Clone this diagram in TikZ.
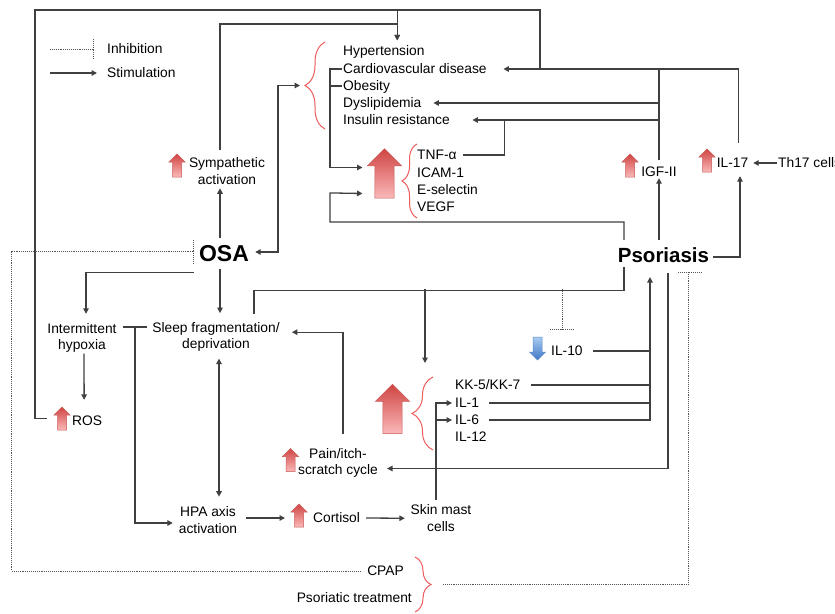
\documentclass[tikz,border=0pt]{standalone}
\usepackage{fontspec}
\setmainfont{Liberation Sans}
\usetikzlibrary{arrows.meta, positioning, decorations.pathreplacing}
\definecolor{linegray}{HTML}{404040}
\definecolor{dotgray}{HTML}{555555}
\definecolor{bracered}{HTML}{EE5C5C}
\definecolor{uptop}{HTML}{CF4543}
\definecolor{upbot}{HTML}{FBB9B9}
\definecolor{upedge}{HTML}{C95A58}
\definecolor{dntop}{HTML}{A9CBF2}
\definecolor{dnbot}{HTML}{3E78C4}
\definecolor{dnedge}{HTML}{5B8AC8}
\newcommand{\lblsize}{\fontsize{13.8}{16.5}\selectfont}

\begin{document}
\begin{tikzpicture}[x=1pt, y=-1pt,
    txt/.style={font=\lblsize, align=center, inner sep=1pt},
    item/.style={font=\lblsize, anchor=west, inner xsep=1pt, inner ysep=0pt, text height=12.5pt, text depth=3pt},
    key/.style={font=\bfseries\fontsize{#1}{#1}\selectfont, inner sep=2pt},
    ln/.style={draw=linegray, line width=1.3pt},
    arr/.style={ln, -{Triangle[length=5.5pt, width=5.5pt]}},
    biarr/.style={ln, {Triangle[length=5.5pt, width=5.5pt]}-{Triangle[length=5.5pt, width=5.5pt]}},
    inh/.style={draw=dotgray, line width=0.9pt, densely dotted},
    brc/.style={draw=bracered, line width=1pt, decorate, decoration={brace, amplitude=#1}},
    redup/.pic={\path[top color=uptop, bottom color=upbot, draw=upedge, line width=0.5pt]
        (0,-11.5) -- (8,-3.5) -- (4.5,-3.5) -- (4.5,11.5) -- (-4.5,11.5) -- (-4.5,-3.5) -- (-8,-3.5) -- cycle;},
    bluedn/.pic={\path[top color=dntop, bottom color=dnbot, draw=dnedge, line width=0.5pt]
        (0,11.5) -- (8,3.5) -- (4.5,3.5) -- (4.5,-11.5) -- (-4.5,-11.5) -- (-4.5,3.5) -- (-8,3.5) -- cycle;}
]
\useasboundingbox (0,0) rectangle (835,613);
\fill[white] (0,0) rectangle (835,613);

% legend
\node[item] (inhlab) at (106,49) {Inhibition};
\node[item] (stimlab) at (106,73) {Stimulation};
\draw[inh] ([xshift=-56]inhlab.west) -- ([xshift=-13]inhlab.west);
\draw[inh] ([xshift=-13,yshift=10]inhlab.west) -- ([xshift=-13,yshift=-10]inhlab.west);
\draw[arr] ([xshift=-56]stimlab.west) -- ([xshift=-9]stimlab.west);

% main nodes
\node[key=23] (osa) at (224,253.5) {OSA};
\node[key=20.5] (pso) at (663.5,255) {Psoriasis};

% up / down icons
\coordinate (sympup) at (177,165.5);
\coordinate (rosup) at (62,418.5);
\coordinate (igfup) at (630,165.5);
\coordinate (il17up) at (707,160.5);
\coordinate (painup) at (290.5,460);
\coordinate (cortup) at (299,515.5);
\coordinate (tnfup) at (384.5,173.5);
\coordinate (cytup) at (392.5,409);
\coordinate (il10dn) at (537.5,348.5);
\foreach \c in {sympup, rosup, igfup, il17up, painup, cortup}
  \pic at (\c) {redup};
\pic[scale=2.15] at (tnfup) {redup};
\pic[scale=2.15] at (cytup) {redup};
\pic at (il10dn) {bluedn};

% comorbidities
\node[item] (hyp) at (342,51) {Hypertension};
\node[item] (cvd) at (342,69) {Cardiovascular disease};
\node[item] (obe) at (342,86) {Obesity};
\node[item] (dys) at (342,103) {Dyslipidemia};
\node[item] (ins) at (342,120) {Insulin resistance};
\draw[brc=20] (325,129) -- (325,42);
\coordinate (dtip) at (300,85.5);

% adhesion molecules
\node[item] (tnf) at (416,155) {TNF-α};
\node[item] (icam) at (416,172.5) {ICAM-1};
\node[item] (esel) at (416,190) {E-selectin};
\node[item] (vegf) at (416,207) {VEGF};
\draw[brc=15] (417,218) -- (417,144);
\coordinate (tnfin1) at ([xshift=-22,yshift=6]tnfup);
\coordinate (tnfin2) at ([xshift=-22,yshift=-20]tnfup);

\node[txt] (symp) at (227,171.25) {Sympathetic\\activation};
\node[item, anchor=center] (igf) at (659,172) {IGF-II};
\node[item, anchor=center] (il17) at (732.5,163) {IL-17};
\node[item] (th17) at (777,163) {Th17 cells};

% OSA side
\node[txt] (hypox) at (82,337.7) {Intermittent\\hypoxia};
\node[txt] (sleep) at (216,336.7) {Sleep fragmentation/\\deprivation};
\node[item] (ros) at (71,421) {ROS};
\node[txt] (pain) at (338,462.7) {Pain/itch-\\scratch cycle};
\node[txt] (hpa) at (208,520.2) {HPA axis\\activation};
\node[item] (cort) at (312,518) {Cortisol};
\node[txt] (skin) at (441,518.25) {Skin mast\\cells};

% cytokines
\node[item] (il10) at (550,351) {IL-10};
\node[item] (kk) at (454,385) {KK-5/KK-7};
\node[item] (il1) at (454,403) {IL-1};
\node[item] (il6) at (454,420) {IL-6};
\node[item] (il12) at (454,436.5) {IL-12};
\draw[brc=21] (433,450) -- (433,377);
\coordinate (cytin) at (425,363);
\coordinate (il10bar) at (562,329);

% treatments
\node[item, anchor=east] (cpap) at (405,571) {CPAP};
\node[item, anchor=east] (ptreat) at (413,598) {Psoriatic treatment};
\draw[brc=16] (415,557) -- (415,612);
\coordinate (cbtip) at (431,584.5);

% top loop
\coordinate (jcv) at (540,69);
\coordinate (ctl) at (35,10);
\coordinate (hypin) at ([xshift=13.35,yshift=2.75]hyp.north);
\draw[ln] (jcv) |- (ctl) |- ([xshift=-15]rosup);
\draw[arr] (hypin |- ctl) -- (hypin);
\draw[arr] ([xshift=-7,yshift=7]symp.north) |- (hypin |- 0,24) -- (hypin);

% Psoriasis -> IL-17 / IGF-II -> comorbidities
\draw[arr] ([xshift=1.9,yshift=-2]pso.east) -| ([xshift=7.5,yshift=-5.25]il17.south);
\draw[arr] (th17.west) -- ([xshift=3.8]il17.east);
\draw[arr] ([xshift=6,yshift=12.25]il17.north) |- ([xshift=15.6]cvd.east);
\draw[arr] ([yshift=5.35]igf.south |- pso.north) -- ([yshift=1.75]igf.south);
\draw[ln] ([yshift=4.25]igf.north) -- (igf.north |- jcv);
\draw[arr] (igf.north |- dys.east) -- ([xshift=10.8]dys.east);
\draw[arr] (igf.north |- ins.east) -- ([xshift=21.4]ins.east);
\draw[ln] ([xshift=5.6]tnf.east) -| ++(41,-35);

% comorbidities -> adhesion molecules
\draw[arr] (cvd.west) -- ++(-12,0) |- (tnfin1);
\draw[ln] (obe.west) -- ++(-12,0);
\draw[arr] ([xshift=-39.5,yshift=5.35]pso.north) -- ++(0,-18) -| ++(-294,-29) -- (tnfin2);

% OSA links
\draw[arr] ([xshift=-4,yshift=4.85]osa.north) -- ([xshift=-7,yshift=-2.5]symp.south);
\draw[biarr] ([xshift=4.1,yshift=1.5]osa.east) -| ([xshift=-22]dtip) -- (dtip);
\draw[arr] ([xshift=-4,yshift=-4.85]osa.south) -- ([xshift=4,yshift=7.7]sleep.north);
\draw[arr] ([xshift=-3.1,yshift=-8.85]osa.south west) -| ([xshift=4,yshift=8]hypox.north);
\draw[arr] ([xshift=2]hypox.south) -- ([xshift=-3,yshift=13.25]ros.north);
\coordinate (hsmid) at (135,327);
\draw[ln] ([xshift=5.5,yshift=10.7]hypox.east) -- ([xshift=-4.3,yshift=9.7]sleep.west);
\draw[arr] (hsmid) |- ([xshift=-4.85,yshift=-2.8]hpa.west);
\draw[biarr] ([xshift=3,yshift=-6]sleep.south) -- ([xshift=11,yshift=9]hpa.north);
\draw[arr] ([xshift=7.85,yshift=2.2]hpa.east) -- ([xshift=-14,yshift=-2.5]cortup);
\draw[arr] ([xshift=5]cort.east) -- ([xshift=-4.7]skin.west);
\draw[arr] ([xshift=-5,yshift=4]skin.north) |- ([xshift=-2]il1.west);
\draw[arr] ([xshift=-5,yshift=4]skin.north) |- ([xshift=-2]il6.west);
\draw[arr] ([xshift=5,yshift=13]pain.north) |- ([xshift=11,yshift=4.5]sleep.east);

% sleep / psoriasis -> cytokines
\draw[ln] ([xshift=38,yshift=7.3]sleep.north) -- ++(0,-23) -| ([xshift=-39.5,yshift=-2.35]pso.south);
\draw[arr] ([yshift=74]cytin) -- (cytin);
\draw[inh] ([yshift=40]il10bar) -- (il10bar);
\draw[inh] ([xshift=-12]il10bar) -- ([xshift=12]il10bar);

% cytokines -> Psoriasis
\coordinate (pin) at ([xshift=-13.5,yshift=-12.35]pso.south);
\draw[ln] ([xshift=9]il10.east) -- (il10.east -| pin);
\draw[ln] ([xshift=9]kk.east) -- (kk.east -| pin);
\draw[ln] ([xshift=8.5]il1.east) -- (il1.east -| pin);
\draw[arr] ([xshift=8.5]il6.east) -| (pin);
\draw[arr] ([xshift=4.5,yshift=-8.35]pso.south) |- ([xshift=8,yshift=-5.8]pain.east);

% treatments inhibit
\draw[inh] ([xshift=-5.4]cpap.west) -| ([xshift=-185.1,yshift=2.5]osa.west) -- ([xshift=-3.1,yshift=2.5]osa.west);
\draw[inh] ([xshift=-3.1,yshift=13.5]osa.west) -- ([xshift=-3.1,yshift=-9.5]osa.west);
\draw[inh] ([xshift=12]cbtip) -| ([xshift=24.5,yshift=-7.35]pso.south);
\draw[inh] ([xshift=14.5,yshift=-7.35]pso.south) -- ([xshift=38.5,yshift=-7.35]pso.south);
\end{tikzpicture}
\end{document}
